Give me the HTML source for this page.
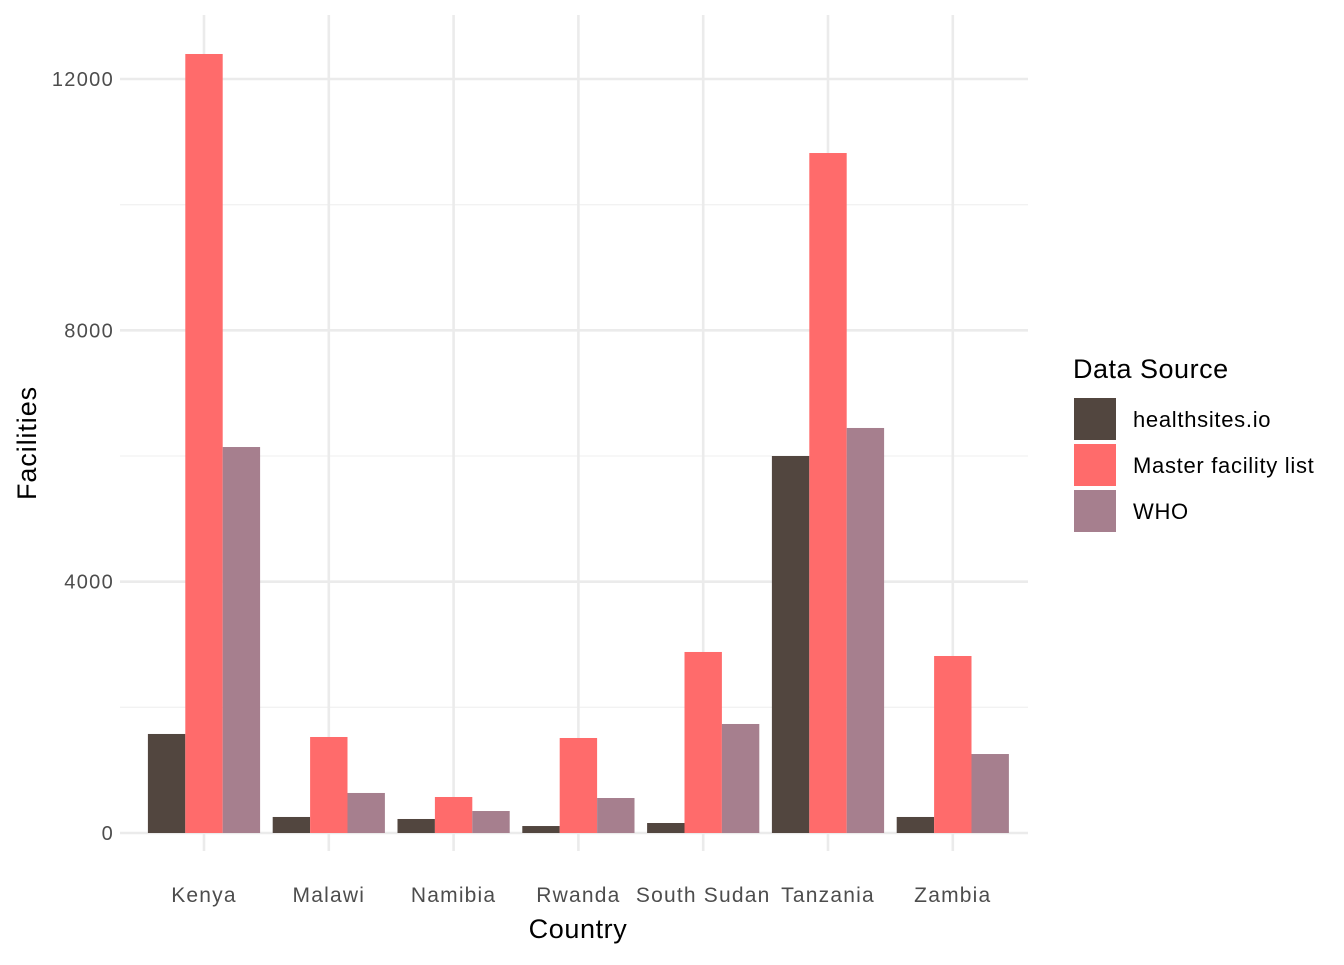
<!DOCTYPE html>
<html><head><meta charset="utf-8"><style>
html,body{margin:0;padding:0;background:#fff;}
svg text{font-family:"Liberation Sans",sans-serif;}
</style></head><body>
<svg id="chart" width="1344" height="960">
<g id="grid"></g>
<g id="bars"></g>
<g id="axes"></g>
<text x="578" y="938" font-size="27" letter-spacing="0.6" text-anchor="middle" fill="#000">Country</text>
<text transform="translate(36,443) rotate(-90)" font-size="27" letter-spacing="0.9" text-anchor="middle" fill="#000">Facilities</text>
<g id="legend">
<text x="1073" y="378" font-size="27" letter-spacing="0.5" fill="#000">Data Source</text>
</g>
</svg>
<script>
const categories=["Kenya","Malawi","Namibia","Rwanda","South Sudan","Tanzania","Zambia"];
const seriesNames=["healthsites.io","Master facility list","WHO"];
const healthsites=[1576,255,223,111,159,6000,255];
const masterList=[12398,1528,573,1512,2881,10822,2817];
const who=[6143,637,350,557,1735,6446,1257];
const yTicks=[0,4000,8000,12000];
const yMinor=[2000,6000,10000];
const colors=["#52463F","#FF6B6B","#A67F8E"];
const NS="http://www.w3.org/2000/svg";
const y0=833, pxPer=754/12000;
const yScale=v=>y0-v*pxPer;
const xStart=204, step=124.8;
const xScale=i=>xStart+i*step;
const barW=37.4;
function mk(tag,attrs,parent){const e=document.createElementNS(NS,tag);for(const k in attrs)e.setAttribute(k,attrs[k]);parent.appendChild(e);return e;}
const grid=document.getElementById('grid'),bars=document.getElementById('bars'),axes=document.getElementById('axes'),legend=document.getElementById('legend');
const L=120,R=1028,T=15,B=851;
yMinor.forEach(v=>{const l=mk('line',{x1:L,x2:R,y1:yScale(v),y2:yScale(v),stroke:'#f2f2f2','stroke-width':1.3},grid);

});
yTicks.forEach(v=>{const l=mk('line',{x1:L,x2:R,y1:yScale(v),y2:yScale(v),stroke:'#ebebeb','stroke-width':2.6},grid);


const t=mk('text',{x:114,y:yScale(v)+7,'font-size':20,'letter-spacing':1.3,'text-anchor':'end',fill:'#4d4d4d'},axes);t.textContent=v;

});
categories.forEach((c,i)=>{const l=mk('line',{x1:xScale(i),x2:xScale(i),y1:T,y2:B,stroke:'#ebebeb','stroke-width':2.6},grid);


const t=mk('text',{x:xScale(i),y:902,'font-size':21,'letter-spacing':1.2,'text-anchor':'middle',fill:'#4d4d4d'},axes);t.textContent=c;

});
[healthsites,masterList,who].forEach((s,si)=>{s.forEach((v,i)=>{const x=xScale(i)+(si-1.5)*barW;
const r=mk('rect',{x:x,y:yScale(v),width:barW,height:y0-yScale(v),fill:colors[si]},bars);

});});
seriesNames.forEach((n,i)=>{const y=398+i*46;
const r=mk('rect',{x:1074,y:y,width:42,height:42,fill:colors[i]},legend);


const t=mk('text',{x:1133,y:y+29,'font-size':22,'letter-spacing':0.7,fill:'#000'},legend);t.textContent=n;

});
</script>
</body></html>
